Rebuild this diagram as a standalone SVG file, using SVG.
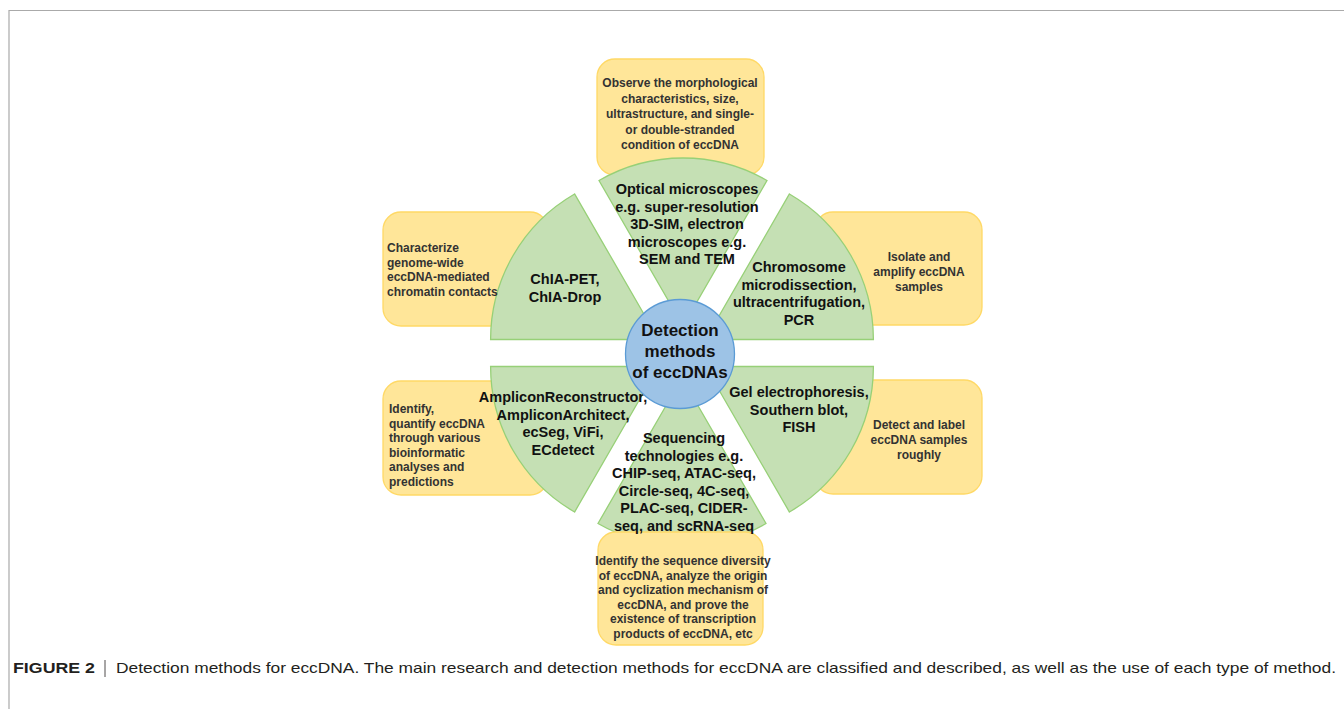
<svg xmlns="http://www.w3.org/2000/svg" width="1344" height="709" viewBox="0 0 1344 709">
<style>
.box{fill:#ffe699;stroke:#ffd966;stroke-width:1.3}
.wedge{fill:#c5e0b4;stroke:#97d077;stroke-width:1.3}
.hub{fill:#9dc3e6;stroke:#5b9bd5;stroke-width:1.3}
.bt{font-family:"Liberation Sans",Arial,sans-serif;font-weight:bold;font-size:12px;fill:#333333}
.wt{font-family:"Liberation Sans",Arial,sans-serif;font-weight:bold;font-size:14.5px;fill:#111111;text-anchor:middle}
.c{text-anchor:middle}
.ht{font-family:"Liberation Sans",Arial,sans-serif;font-weight:bold;font-size:17px;fill:#111111;text-anchor:middle}
.cap{font-family:"Liberation Sans",Arial,sans-serif;font-size:15px;fill:#231f20}
</style>
<rect width="1344" height="709" fill="#ffffff"/>
<g id="frame" fill="none" stroke="#aaaaaa" stroke-width="1.2">
<path d="M9,709 V10.5 H1344"/>
</g>
<g id="connectors"></g>

<g id="box-top">
<rect class="box" x="597" y="59" width="167" height="116" rx="18"/>
<text class="bt c" x="680"><tspan x="680" y="87">Observe the morphological</tspan><tspan x="680" y="102.5">characteristics, size,</tspan><tspan x="680" y="118">ultrastructure, and single-</tspan><tspan x="680" y="133.5">or double-stranded</tspan><tspan x="680" y="149">condition of eccDNA</tspan></text>
</g>
<g id="box-upper-left">
<rect class="box" x="383" y="212" width="165" height="114" rx="18"/>
</g>
<g id="box-upper-right">
<rect class="box" x="815" y="212" width="167" height="113" rx="18"/>
<text class="bt c"><tspan x="919" y="261">Isolate and</tspan><tspan x="919" y="276">amplify eccDNA</tspan><tspan x="919" y="291">samples</tspan></text>
</g>
<g id="box-lower-left">
<rect class="box" x="383" y="381" width="165" height="114" rx="18"/>
<text class="bt"><tspan x="389" y="413">Identify,</tspan><tspan x="389" y="427.6">quantify eccDNA</tspan><tspan x="389" y="442.2">through various</tspan><tspan x="389" y="456.8">bioinformatic</tspan><tspan x="389" y="471.4">analyses and</tspan><tspan x="389" y="486">predictions</tspan></text>
</g>
<g id="box-lower-right">
<rect class="box" x="815" y="380" width="167" height="114" rx="18"/>
<text class="bt c"><tspan x="919" y="429">Detect and label</tspan><tspan x="919" y="444">eccDNA samples</tspan><tspan x="919" y="459">roughly</tspan></text>
</g>

<g id="wedge-top">
<path class="wedge" d="M683,326 L599,180.5 A168,168 0 0,1 767,180.5 Z"/>
<text class="wt"><tspan x="687" y="194">Optical microscopes</tspan><tspan x="687" y="211.6">e.g. super-resolution</tspan><tspan x="687" y="229.2">3D-SIM, electron</tspan><tspan x="687" y="246.8">microscopes e.g.</tspan><tspan x="687" y="264.4">SEM and TEM</tspan></text>
</g>
<g id="wedge-upper-left">
<path class="wedge" d="M658.6,339.5 L490.6,339.5 A168,168 0 0,1 574.6,194 Z"/>
<text class="wt"><tspan x="565" y="284">ChIA-PET,</tspan><tspan x="565" y="302">ChIA-Drop</tspan></text>
</g>
<g id="box-upper-left-text">
<text class="bt"><tspan x="387" y="252">Characterize</tspan><tspan x="387" y="266.5">genome-wide</tspan><tspan x="387" y="281">eccDNA-mediated</tspan><tspan x="387" y="296">chromatin contacts</tspan></text>
</g>
<g id="wedge-upper-right">
<path class="wedge" d="M705.4,339.5 L789.4,194 A168,168 0 0,1 873.4,339.5 Z"/>
<text class="wt"><tspan x="799" y="272">Chromosome</tspan><tspan x="799" y="289.5">microdissection,</tspan><tspan x="799" y="307">ultracentrifugation,</tspan><tspan x="799" y="324.5">PCR</tspan></text>
</g>
<g id="wedge-lower-left">
<path class="wedge" d="M658.6,366.5 L574.6,512 A168,168 0 0,1 490.6,366.5 Z"/>
<text class="wt"><tspan x="563" y="402">AmpliconReconstructor,</tspan><tspan x="563" y="419.5">AmpliconArchitect,</tspan><tspan x="563" y="437">ecSeg, ViFi,</tspan><tspan x="563" y="454.5">ECdetect</tspan></text>
</g>
<g id="wedge-lower-right">
<path class="wedge" d="M705.4,366.5 L873.4,366.5 A168,168 0 0,1 789.4,512 Z"/>
<text class="wt"><tspan x="799" y="397">Gel electrophoresis,</tspan><tspan x="799" y="414.5">Southern blot,</tspan><tspan x="799" y="432">FISH</tspan></text>
</g>
<g id="wedge-bottom">
<path class="wedge" d="M682,378 L766,523.5 A168,168 0 0,1 598,523.5 Z"/>
</g>
<g id="box-bottom">
<rect class="box" x="598" y="532" width="165" height="113" rx="18"/>
<text class="bt c"><tspan x="683" y="565">Identify the sequence diversity</tspan><tspan x="683" y="579.6">of eccDNA, analyze the origin</tspan><tspan x="683" y="594.2">and cyclization mechanism of</tspan><tspan x="683" y="608.8">eccDNA, and prove the</tspan><tspan x="683" y="623.4">existence of transcription</tspan><tspan x="683" y="638">products of eccDNA, etc</tspan></text>
</g>
<g id="wedge-bottom-text">
<text class="wt"><tspan x="684" y="443">Sequencing</tspan><tspan x="684" y="460.6">technologies e.g.</tspan><tspan x="684" y="478.2">CHIP-seq, ATAC-seq,</tspan><tspan x="684" y="495.8">Circle-seq, 4C-seq,</tspan><tspan x="684" y="513.4">PLAC-seq, CIDER-</tspan><tspan x="684" y="531">seq, and scRNA-seq</tspan></text>
</g>

<g id="hub">
<circle class="hub" cx="680" cy="354" r="54.5"/>
<text class="ht"><tspan x="680" y="336">Detection</tspan><tspan x="680" y="357">methods</tspan><tspan x="680" y="378">of eccDNAs</tspan></text>
</g>

<g id="caption">
<text class="cap" x="13" y="673" font-weight="bold" textLength="82" lengthAdjust="spacingAndGlyphs">FIGURE 2</text>
<line x1="105" y1="660" x2="105" y2="677" stroke="#231f20" stroke-width="0.8"/>
<text class="cap" x="116" y="673" textLength="1220" lengthAdjust="spacingAndGlyphs">Detection methods for eccDNA. The main research and detection methods for eccDNA are classified and described, as well as the use of each type of method.</text>
</g>
</svg>
